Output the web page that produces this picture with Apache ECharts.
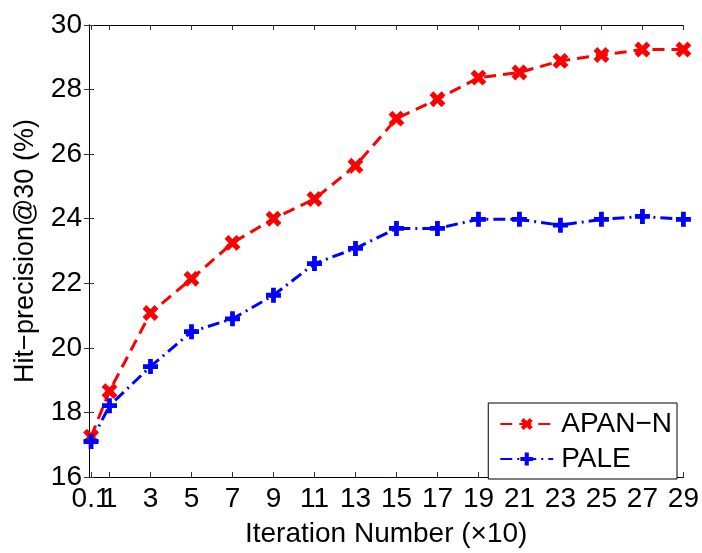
<!DOCTYPE html>
<html>
<head>
<meta charset="utf-8">
<script src="https://cdn.jsdelivr.net/npm/echarts@6/dist/echarts.min.js"></script>
<style>
  html, body { margin: 0; padding: 0; background: #fff; }
  #chart { width: 702px; height: 553px; }
</style>
</head>
<body>
<div id="chart"></div>
<script>
var iterations = [0.1, 1, 3, 5, 7, 9, 11, 13, 15, 17, 19, 21, 23, 25, 27, 29];
var apanN = [17.25, 18.66, 21.08, 22.14, 23.25, 24.0, 24.61, 25.64, 27.1, 27.7, 28.37, 28.53, 28.89, 29.07, 29.24, 29.24];
var pale = [17.1, 18.21, 19.42, 20.5, 20.9, 21.63, 22.61, 23.08, 23.7, 23.7, 23.98, 23.98, 23.8, 23.98, 24.07, 23.98];
var xTicks = [0.1, 1, 3, 5, 7, 9, 11, 13, 15, 17, 19, 21, 23, 25, 27, 29];
// "0.1" and "1" overlap in the original, so "1" goes on its own axis
var xLabelsMain = [0.1, 3, 5, 7, 9, 11, 13, 15, 17, 19, 21, 23, 25, 27, 29];
var xLabelsExtra = [1];

var FONT = "Liberation Sans";
var plusPath = 'path://M3.4,0H6.6V3.4H10V6.6H6.6V10H3.4V6.6H0V3.4H3.4Z';

function pairs(xs, ys) {
    return xs.map(function (x, i) { return [x, ys[i]]; });
}

var chart = echarts.init(document.getElementById('chart'));

var yTick = {show: true, inside: true, length: 5, lineStyle: {color: '#333', width: 1}};
var xTick = {show: true, inside: true, length: 5, lineStyle: {color: '#333', width: 1}, customValues: xTicks};
var axLine = {show: true, lineStyle: {color: '#000', width: 1}};
var xLabelStyle = {fontFamily: FONT, fontSize: 28, color: '#000', margin: 8, showMinLabel: true};

chart.setOption({
    animation: false,
    backgroundColor: '#fff',
    grid: {left: 89, right: 16, top: 25, bottom: 65},
    legend: {
        orient: 'vertical', right: 25, top: 403,
        backgroundColor: '#fff', borderColor: '#000', borderWidth: 1,
        padding: [7, 5, 6, 11], itemGap: 7, itemWidth: 53, itemHeight: 16,
        textStyle: {fontFamily: FONT, fontSize: 28, color: '#000', width: 116, padding: [0, 0, 0, 3]},
        data: ['APAN−N', 'PALE']
    },
    xAxis: [{
        type: 'value', min: 0, max: 29,
        name: 'Iteration Number (×10)', nameLocation: 'middle', nameGap: 43,
        nameTextStyle: {fontFamily: FONT, fontSize: 28, color: '#000'},
        axisLine: axLine, axisTick: xTick, splitLine: {show: false},
        axisLabel: Object.assign({customValues: xLabelsMain}, xLabelStyle)
    }, {
        type: 'value', min: 0, max: 29, position: 'top',
        axisLine: axLine, axisTick: xTick,
        axisLabel: {show: false}, splitLine: {show: false}
    }, {
        type: 'value', min: 0, max: 29, position: 'bottom', offset: 0,
        axisLine: {show: false}, axisTick: {show: false}, splitLine: {show: false},
        axisLabel: Object.assign({customValues: xLabelsExtra}, xLabelStyle)
    }],
    yAxis: [{
        type: 'value', min: 16, max: 30, interval: 2,
        name: 'Hit−precision@30 (%)', nameLocation: 'middle', nameGap: 50,
        nameTextStyle: {fontFamily: FONT, fontSize: 27, color: '#000'},
        axisLine: axLine, axisTick: yTick, splitLine: {show: false},
        axisLabel: {fontFamily: FONT, fontSize: 28, color: '#000', margin: 7}
    }, {
        type: 'value', min: 16, max: 30, interval: 2, position: 'right',
        axisLine: axLine, axisTick: yTick, splitLine: {show: false},
        axisLabel: {show: false}
    }],
    series: [{
        name: 'APAN−N', type: 'line', data: pairs(iterations, apanN),
        symbol: plusPath, symbolRotate: 45, symbolSize: 17, showAllSymbol: true,
        itemStyle: {color: '#ff0000'},
        lineStyle: {color: '#ff0000', width: 3, type: [12, 7]}
    }, {
        name: 'PALE', type: 'line', data: pairs(iterations, pale),
        symbol: plusPath, symbolSize: 15, showAllSymbol: true,
        itemStyle: {color: '#0000ff'},
        lineStyle: {color: '#0000ff', width: 3, type: [12, 5, 2, 5]}
    }]
});
</script>
</body>
</html>
